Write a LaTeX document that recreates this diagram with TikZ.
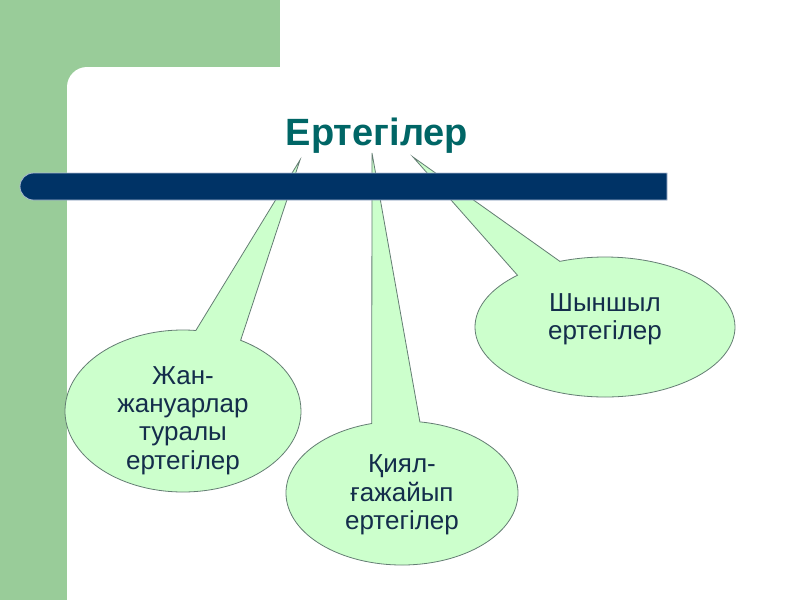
\documentclass[tikz,border=0pt]{standalone}
\usepackage{fontspec}
\setmainfont{Liberation Sans}
\usetikzlibrary{shapes.callouts,calc}
\definecolor{bggreen}{RGB}{153,204,153}
\definecolor{barnavy}{RGB}{0,51,102}
\definecolor{barrim}{RGB}{170,185,210}
\definecolor{titleteal}{RGB}{0,102,102}
\definecolor{bubblefill}{RGB}{204,255,204}
\definecolor{bubbleline}{RGB}{100,125,115}
\definecolor{bubbletext}{RGB}{20,45,75}
\begin{document}
\begin{tikzpicture}[x=1pt,y=-1pt,
  bubble/.style={ellipse callout, draw=bubbleline, fill=bubblefill, line width=0.8pt, inner sep=0pt, outer sep=0pt},
  bubbletxt/.style={align=center, text=bubbletext, inner sep=0pt, font=\fontsize{26}{28.3}\selectfont},
  titletxt/.style={text=titleteal, inner sep=0pt, font=\fontsize{38}{42}\selectfont\bfseries}]
\useasboundingbox (0,0) rectangle (800,600);
% background
\fill[white] (0,0) rectangle (800,600);
\fill[bggreen] (0,0) rectangle (280,90);
\fill[bggreen] (0,0) rectangle (90,600);
\fill[white, rounded corners=20pt] (67,67) rectangle (900,700);
% pointer tips
\coordinate (tipL) at (300,160);
\coordinate (tipM) at (372,153);
\coordinate (tipR) at (413,157);
% callouts
\node[bubble, minimum width=236pt, minimum height=162pt, callout absolute pointer={(tipL)}, callout pointer arc=23] (jan) at (183,411) {};
\node[bubble, minimum width=232pt, minimum height=144pt, callout absolute pointer={(tipM)}, callout pointer arc=24] (qiyal) at (402,493) {};
\node[bubble, minimum width=260pt, minimum height=140pt, callout absolute pointer={(tipR)}, callout pointer arc=22] (shyn) at (605,327) {};
% bar
\fill[barnavy, draw=barrim, line width=0.8pt] (667,173) [rounded corners=13.5pt] -- (20,173) -- (20,200) [sharp corners] -- (667,200) -- cycle;
% title
\node[titletxt, anchor=base] (title) at (377,145) {Ертегілер};
% texts
\node[bubbletxt] (janT) at (183,420.5) {Жан-\\жануарлар\\туралы\\ертегілер};
\node[bubbletxt] (qiyalT) at (402,495) {Қиял-\\ғажайып\\ертегілер};
\node[bubbletxt] (shynT) at (605,319.5) {Шыншыл\\ертегілер};
\end{tikzpicture}
\end{document}
